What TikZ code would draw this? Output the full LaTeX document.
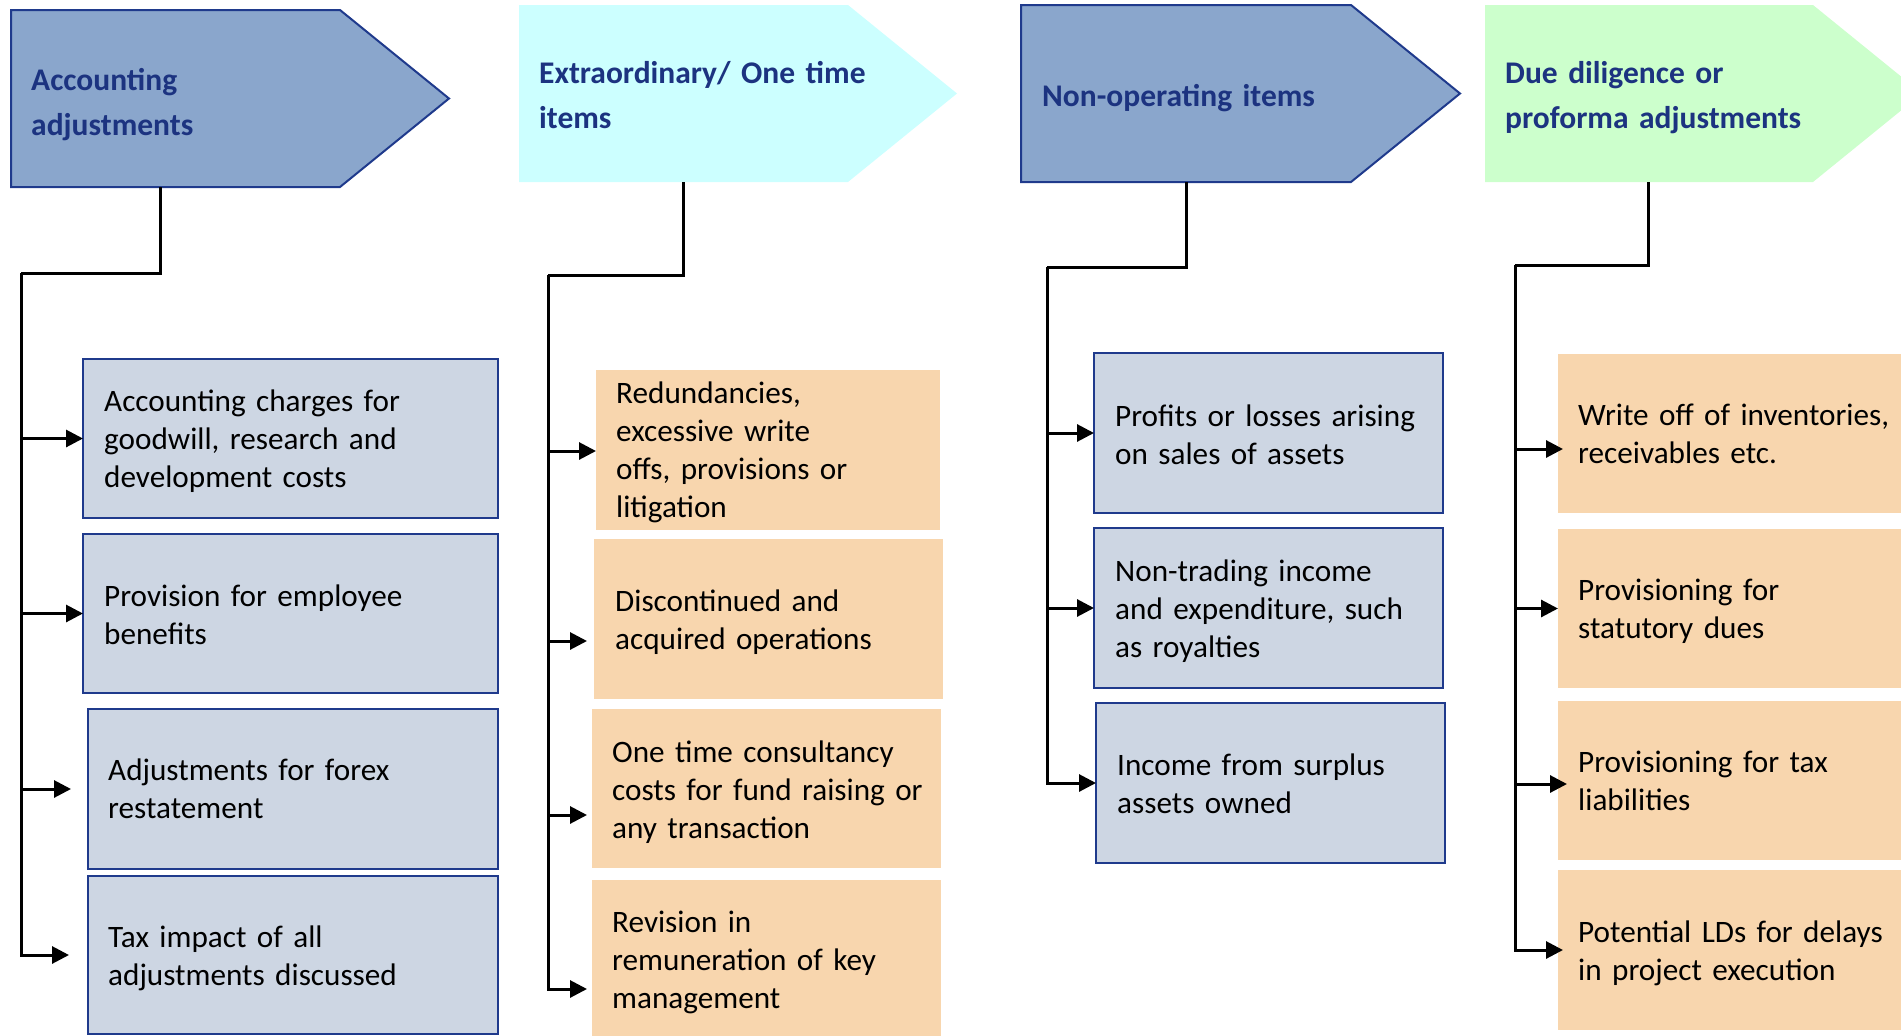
\documentclass[tikz,border=0pt]{standalone}
\usepackage{fontspec}
\setmainfont{Carlito}
\usetikzlibrary{arrows.meta}

\definecolor{hdrblue}{HTML}{8AA6CC}
\definecolor{navy}{HTML}{1F3A8C}
\definecolor{hdrtext}{HTML}{1C3380}
\definecolor{itemblue}{HTML}{CDD6E3}
\definecolor{itemorange}{HTML}{F8D6AE}
\definecolor{hdrcyan}{HTML}{CCFFFF}
\definecolor{hdrgreen}{HTML}{CCFFCC}

\tikzset{
  hdrrect/.style={rectangle, inner sep=0pt, outer sep=0pt, anchor=north west,
    minimum width=329pt, minimum height=177pt},
  hdrlabel/.style={anchor=base west, inner sep=0pt, text width=420pt, align=left,
    text=hdrtext, font=\fontsize{31.5}{45.5}\selectfont\bfseries},
  itembox/.style={rectangle, inner sep=0pt, outer sep=0pt, anchor=north west,
    minimum height=159pt},
  bluebox/.style={itembox, fill=itemblue, draw=navy, line width=2pt},
  orangebox/.style={itembox, fill=itemorange},
  itemlabel/.style={anchor=base west, inner sep=0pt, text width=420pt, align=left,
    text=black, font=\fontsize{31.2}{38}\selectfont},
  link/.style={draw=black, line width=3pt},
  arrowlink/.style={link, -{Triangle[length=17pt,width=17pt]}},
}

\begin{document}
\begin{tikzpicture}[x=1pt, y=-1pt]
\useasboundingbox (0,0) rectangle (1901,1036);
\clip (0,0) rectangle (1901,1036);

% ---------- column headers (rectangle body + pointer) ----------
\node[hdrrect] (h1) at (11,10) {};
\path[fill=hdrblue, draw=navy, line width=2pt]
  (h1.north west) -- (h1.north east) -- ([xshift=109pt]h1.east)
  -- (h1.south east) -- (h1.south west) -- cycle;
\node[hdrlabel] (h1t) at (31,90) {Accounting\\adjustments};

\node[hdrrect] (h2) at (519,5) {};
\path[fill=hdrcyan]
  (h2.north west) -- (h2.north east) -- ([xshift=109pt]h2.east)
  -- (h2.south east) -- (h2.south west) -- cycle;
\node[hdrlabel] (h2t) at (539,83) {Extraordinary/ One time\\items};

\node[hdrrect, minimum width=330pt] (h3) at (1021,5) {};
\path[fill=hdrblue, draw=navy, line width=2pt]
  (h3.north west) -- (h3.north east) -- ([xshift=109pt]h3.east)
  -- (h3.south east) -- (h3.south west) -- cycle;
\node[hdrlabel] (h3t) at (1042,106) {Non-operating items};

\node[hdrrect, minimum width=328pt] (h4) at (1485,5) {};
\path[fill=hdrgreen]
  (h4.north west) -- (h4.north east) -- ([xshift=109pt]h4.east)
  -- (h4.south east) -- (h4.south west) -- cycle;
\node[hdrlabel] (h4t) at (1505,83) {Due diligence or\\proforma adjustments};

% ---------- column 1: accounting adjustments ----------
\node[bluebox, minimum width=415pt] (b11) at (83,359) {};
\node[itemlabel] (b11t) at (104,411) {Accounting charges for\\goodwill, research and\\development costs};
\node[bluebox, minimum width=415pt] (b12) at (83,534) {};
\node[itemlabel] (b12t) at (104,606) {Provision for employee\\benefits};
\node[bluebox, minimum width=410pt, minimum height=160pt] (b13) at (88,709) {};
\node[itemlabel] (b13t) at (108,780) {Adjustments for forex\\restatement};
\node[bluebox, minimum width=410pt, minimum height=158pt] (b14) at (88,876) {};
\node[itemlabel] (b14t) at (108,947) {Tax impact of all\\adjustments discussed};

% ---------- column 2: extraordinary / one time items ----------
\node[orangebox, minimum width=344pt, minimum height=160pt] (b21) at (596,370) {};
\node[itemlabel] (b21t) at (616,403) {Redundancies,\\excessive write\\offs, provisions or\\litigation};
\node[orangebox, minimum width=349pt, minimum height=160pt] (b22) at (594,539) {};
\node[itemlabel] (b22t) at (615,611) {Discontinued and\\acquired operations};
\node[orangebox, minimum width=349pt] (b23) at (592,709) {};
\node[itemlabel] (b23t) at (612,762) {One time consultancy\\costs for fund raising or\\any transaction};
\node[orangebox, minimum width=349pt, minimum height=158pt] (b24) at (592,880) {};
\node[itemlabel] (b24t) at (612,932) {Revision in\\remuneration of key\\management};

% ---------- column 3: non-operating items ----------
\node[bluebox, minimum width=349pt, minimum height=160pt] (b31) at (1094,353) {};
\node[itemlabel] (b31t) at (1115,426) {Profits or losses arising\\on sales of assets};
\node[bluebox, minimum width=349pt, minimum height=160pt] (b32) at (1094,528) {};
\node[itemlabel] (b32t) at (1115,581) {Non-trading income\\and expenditure, such\\as royalties};
\node[bluebox, minimum width=349pt, minimum height=160pt] (b33) at (1096,703) {};
\node[itemlabel] (b33t) at (1117,775) {Income from surplus\\assets owned};

% ---------- column 4: due diligence / proforma adjustments ----------
\node[orangebox, minimum width=360pt] (b41) at (1558,354) {};
\node[itemlabel] (b41t) at (1578,425) {Write off of inventories,\\receivables etc.};
\node[orangebox, minimum width=360pt] (b42) at (1558,529) {};
\node[itemlabel] (b42t) at (1578,600) {Provisioning for\\statutory dues};
\node[orangebox, minimum width=360pt] (b43) at (1558,701) {};
\node[itemlabel] (b43t) at (1578,772) {Provisioning for tax\\liabilities};
\node[orangebox, minimum width=360pt, minimum height=160pt] (b44) at (1558,870) {};
\node[itemlabel] (b44t) at (1578,942) {Potential LDs for delays\\in project execution};

% ---------- connectors ----------
\coordinate (t1) at (21,273);
\draw[link] ([xshift=-15.5pt]h1.south) |- (t1);
\draw[arrowlink] (t1) |- (b11);
\draw[arrowlink] (t1) |- (b12);
\draw[arrowlink, shorten >=17pt] (t1) |- (b13);
\draw[arrowlink, shorten >=19pt] (t1) |- (b14);

\coordinate (t2) at (548,275);
\draw[link] (h2.south) |- (t2);
\draw[arrowlink] (t2) |- ([yshift=-1pt]b21.west);
\draw[arrowlink, shorten >=7pt] (t2) |- ([yshift=-22pt]b22.west);
\draw[arrowlink, shorten >=5pt] (t2) |- ([yshift=-26.5pt]b23.west);
\draw[arrowlink, shorten >=5pt] (t2) |- ([yshift=-30pt]b24.west);

\coordinate (t3) at (1047,267);
\draw[link] (h3.south) |- (t3);
\draw[arrowlink] (t3) |- (b31);
\draw[arrowlink] (t3) |- (b32);
\draw[arrowlink] (t3) |- (b33);

\coordinate (t4) at (1515,265);
\draw[link] ([xshift=-1pt]h4.south) |- (t4);
\draw[arrowlink, shorten >=-5pt] (t4) |- ([yshift=-15.5pt]b41.west);
\draw[arrowlink] (t4) |- (b42);
\draw[arrowlink, shorten >=-9pt] (t4) |- ([yshift=-3.5pt]b43.west);
\draw[arrowlink, shorten >=-5pt] (t4) |- (b44);
\end{tikzpicture}
\end{document}
